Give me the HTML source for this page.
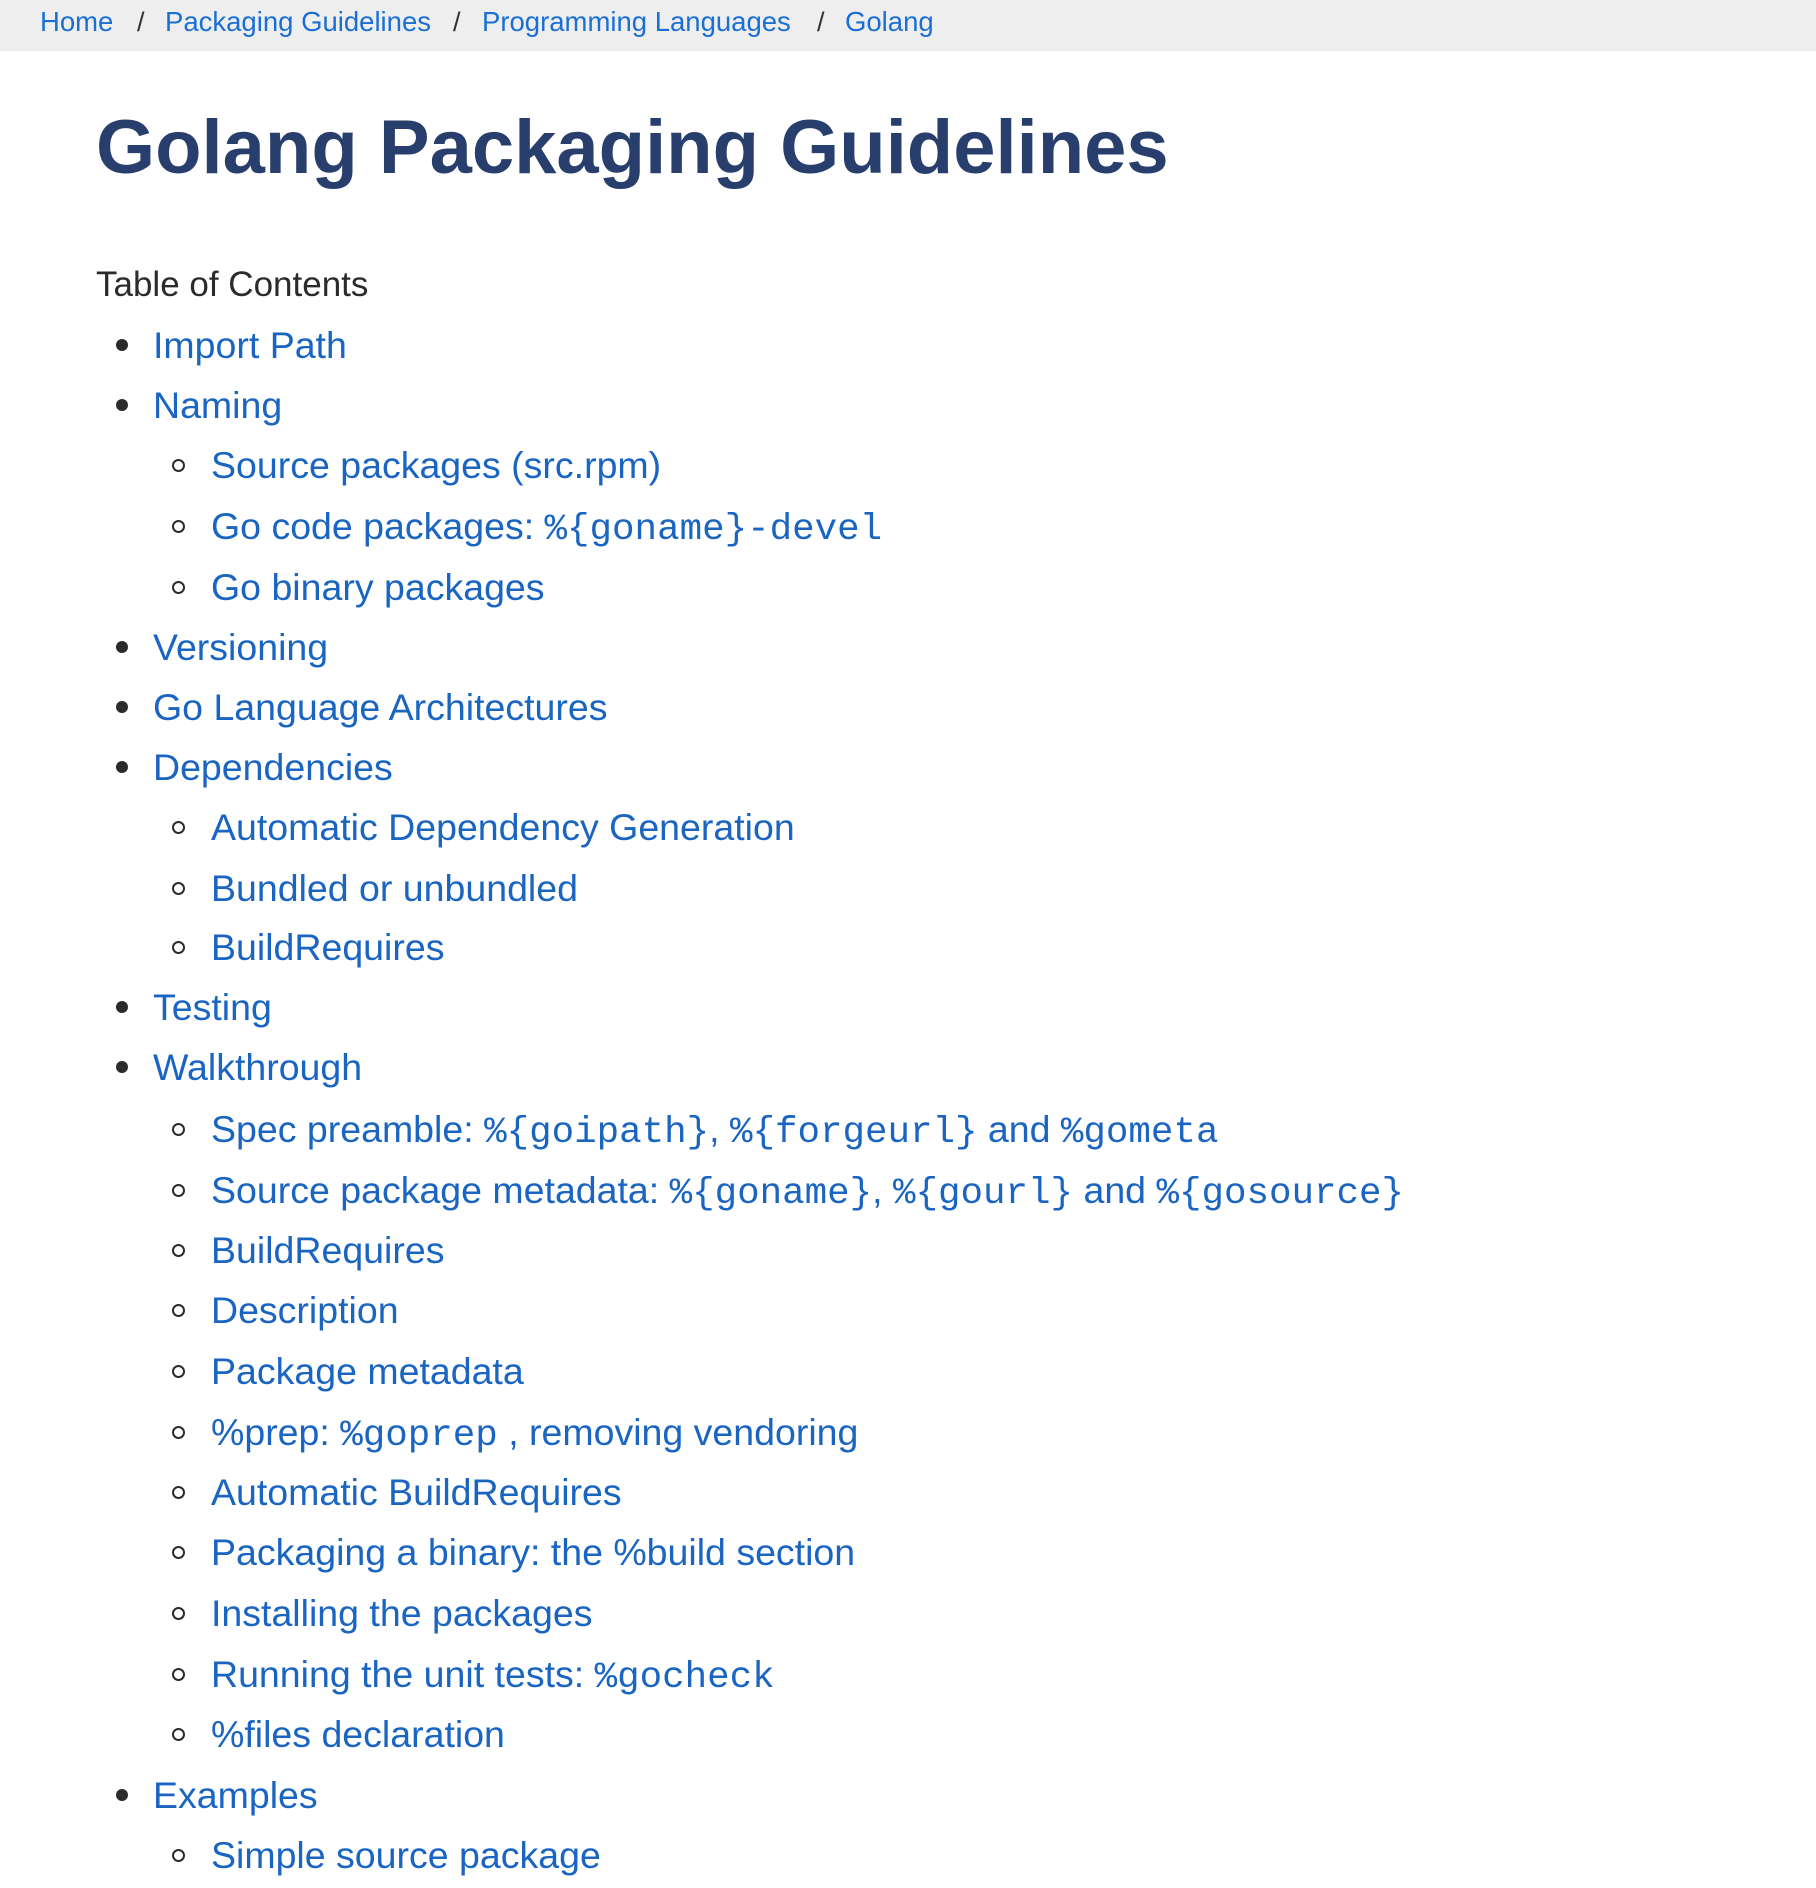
<!DOCTYPE html>
<html><head><meta charset="utf-8">
<style>
html,body{margin:0;padding:0;background:#fff;}
body{width:1816px;height:1888px;position:relative;overflow:hidden;font-family:"Liberation Sans",Arial,sans-serif;}
#crumbs{position:absolute;left:0;top:0;width:1816px;height:51px;background:#eeeeee;}
.cr{position:absolute;top:4px;font-size:27.5px;line-height:36px;color:#1a6fd4;text-decoration:none;white-space:nowrap;}
.sl{position:absolute;top:4px;font-size:27px;line-height:36px;color:#333;}
h1{position:absolute;left:96px;top:98px;margin:0;font-size:76px;line-height:100px;font-weight:bold;color:#283f6e;white-space:nowrap;}
#toc-title{position:absolute;left:96px;top:263px;font-size:35px;line-height:44px;color:#2b2b2b;white-space:nowrap;}
.it{position:absolute;font-size:37.5px;line-height:44px;color:#1a64c2;white-space:nowrap;text-decoration:none;}
.it code{font-family:"Liberation Mono",monospace;font-size:37.5px;}
.b1{position:absolute;width:12px;height:12px;border-radius:50%;background:#2b2b2b;}
.b2{position:absolute;width:13px;height:13px;border-radius:50%;border:2px solid #2b2b2b;box-sizing:border-box;}
</style></head>
<body>
<div id="crumbs">
<a class="cr" style="left:40px">Home</a>
<span class="sl" style="left:137px">/</span>
<a class="cr" style="left:165px">Packaging Guidelines</a>
<span class="sl" style="left:453px">/</span>
<a class="cr" style="left:482px">Programming Languages</a>
<span class="sl" style="left:817px">/</span>
<a class="cr" style="left:845px">Golang</a>
</div>
<h1>Golang Packaging Guidelines</h1>
<div id="toc-title">Table of Contents</div>
<div id="toc"></div>
<script>
const labels=[
"Import Path","Naming","Source packages (src.rpm)","Go code packages: <code>%{goname}-devel</code>","Go binary packages",
"Versioning","Go Language Architectures","Dependencies","Automatic Dependency Generation","Bundled or unbundled","BuildRequires",
"Testing","Walkthrough","Spec preamble: <code>%{goipath}</code>, <code>%{forgeurl}</code> and <code>%gometa</code>",
"Source package metadata: <code>%{goname}</code>, <code>%{gourl}</code> and <code>%{gosource}</code>",
"BuildRequires","Description","Package metadata","%prep: <code>%goprep</code> , removing vendoring","Automatic BuildRequires",
"Packaging a binary: the %build section","Installing the packages","Running the unit tests: <code>%gocheck</code>","%files declaration",
"Examples","Simple source package"];
const levels=[1,1,2,2,2,1,1,1,2,2,2,1,1,2,2,2,2,2,2,2,2,2,2,2,1,2];
const baselines=[358,418,478,539,600,660,720,780,840,901,960,1020,1080,1142,1203,1263,1323,1384,1445,1505,1565,1626,1687,1747,1808,1868];
const toc=document.getElementById('toc');
for(let i=0;i<labels.length;i++){
  const lv=levels[i];
  const a=document.createElement('a');
  a.className='it';
  a.innerHTML=labels[i];
  a.style.left=(lv===1?153:211)+'px';
  a.style.top=(baselines[i]-35)+'px';
  
  
  toc.appendChild(a);
  const b=document.createElement('div');
  b.className=lv===1?'b1':'b2';
  b.style.left=(lv===1?116:172)+'px';
  b.style.top=(baselines[i]-(lv===1?19:19))+'px';
  
  
  toc.appendChild(b);
}
</script>
</body></html>
